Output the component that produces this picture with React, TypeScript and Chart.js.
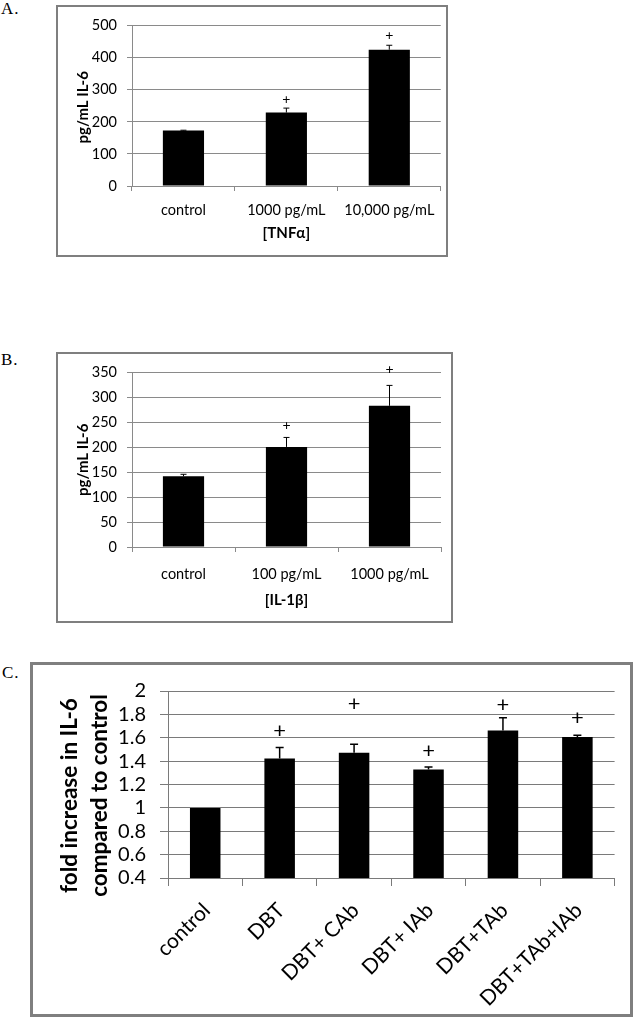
import React, { useEffect, useRef } from "react";
import { Chart, registerables } from "chart.js";

Chart.register(...registerables);

const FONT = "Lato, 'Open Sans', 'DejaVu Sans', sans-serif";

// ---- Panel A data ----
const categoriesA = ["control", "1000 pg/mL", "10,000 pg/mL"];
const valuesA = [173, 229, 425];
const errorsA = [1, 14, 14];
const plusA: (number | null)[] = [null, 271, 468];
const yTicksA = [0, 100, 200, 300, 400, 500];

// ---- Panel B data ----
const categoriesB = ["control", "100 pg/mL", "1000 pg/mL"];
const valuesB = [142, 201, 283.5];
const errorsB = [4, 19, 41];
const plusB: (number | null)[] = [null, 244, 356];
const yTicksB = [0, 50, 100, 150, 200, 250, 300, 350];

// ---- Panel C data ----
const categoriesC = ["control", "DBT", "DBT+ CAb", "DBT+ IAb", "DBT+TAb", "DBT+TAb+IAb"];
const valuesC = [1.0, 1.422, 1.472, 1.328, 1.661, 1.606];
const errorsC = [0, 0.095, 0.072, 0.022, 0.111, 0.016];
const plusC: (number | null)[] = [null, 1.656, 1.889, 1.489, 1.885, 1.767];
const yTicksC = [0.4, 0.6, 0.8, 1, 1.2, 1.4, 1.6, 1.8, 2];

type PanelSpec = {
  label: string;
  labelPos: { left: number; top: number; size: number };
  frame: { left: number; top: number; width: number; height: number; border: number };
  categories: string[];
  values: number[];
  errors: number[];
  plus: (number | null)[];
  yTicks: number[];
  yTitle: string[];
  xTitle?: string;
  lay: {
    padTop: number;
    padRight: number;
    yWidth: number;
    xHeight: number;
    yTickLen: number;
    yTickPad: number;
    yTitleX: number;
    yTitleShift: number;
    yTitleSpacing: number;
    xTickLen: number;
    xTickPad: number;
    xTitlePadBottom: number;
    rotation: number;
    labelOffset: number;
  };
  sty: {
    tickSize: number;
    xTickSize: number;
    yTitleSize: number;
    xTitleSize: number;
    barPct: number;
    grid: string;
    errWidth: number;
    capWidth: number;
    plusSize: number;
  };
};

const panelA: PanelSpec = {
  label: "A.",
  labelPos: { left: 1, top: 0, size: 17 },
  frame: { left: 56, top: 5, width: 392, height: 252, border: 2 },
  categories: categoriesA,
  values: valuesA,
  errors: errorsA,
  plus: plusA,
  yTicks: yTicksA,
  yTitle: ["pg/mL IL-6"],
  xTitle: "[TNFα]",
  lay: {
    padTop: 15, padRight: 4, yWidth: 74, xHeight: 69,
    yTickLen: 5, yTickPad: 10, yTitleX: 25.5, yTitleShift: 1.5, yTitleSpacing: 0,
    xTickLen: 5, xTickPad: 11, xTitlePadBottom: 12.5,
    rotation: 0, labelOffset: 0,
  },
  sty: {
    tickSize: 14.5, xTickSize: 14.5, yTitleSize: 15, xTitleSize: 15,
    barPct: 0.4, grid: "#8a8a8a", errWidth: 1, capWidth: 6, plusSize: 14,
  },
};

const panelB: PanelSpec = {
  label: "B.",
  labelPos: { left: 1, top: 351, size: 17 },
  frame: { left: 56, top: 352, width: 397, height: 271, border: 2 },
  categories: categoriesB,
  values: valuesB,
  errors: errorsB,
  plus: plusB,
  yTicks: yTicksB,
  yTitle: ["pg/mL IL-6"],
  xTitle: "[IL-1β]",
  lay: {
    padTop: 17, padRight: 10, yWidth: 74, xHeight: 74,
    yTickLen: 5, yTickPad: 10, yTitleX: 25.5, yTitleShift: 0, yTitleSpacing: 0,
    xTickLen: 5, xTickPad: 13.5, xTitlePadBottom: 12.3,
    rotation: 0, labelOffset: 0,
  },
  sty: {
    tickSize: 14.5, xTickSize: 14.5, yTitleSize: 15, xTitleSize: 15,
    barPct: 0.4, grid: "#8a8a8a", errWidth: 1, capWidth: 6, plusSize: 14,
  },
};

const panelC: PanelSpec = {
  label: "C.",
  labelPos: { left: 2, top: 664, size: 17 },
  frame: { left: 30, top: 662, width: 603, height: 355, border: 3 },
  categories: categoriesC,
  values: valuesC,
  errors: errorsC,
  plus: plusC,
  yTicks: yTicksC,
  yTitle: ["fold increase in IL-6", "compared to control"],
  lay: {
    padTop: 21, padRight: 15.4, yWidth: 135, xHeight: 136,
    yTickLen: 8, yTickPad: 14, yTitleX: 37, yTitleShift: 11, yTitleSpacing: 30,
    xTickLen: 8, xTickPad: 12, xTitlePadBottom: 0,
    rotation: 45, labelOffset: 1.5,
  },
  sty: {
    tickSize: 20, xTickSize: 21, yTitleSize: 22.5, xTitleSize: 15,
    barPct: 0.41, grid: "#7a7a7a", errWidth: 1.5, capWidth: 8, plusSize: 22,
  },
};

function buildConfig(p: PanelSpec): any {
  const { lay, sty } = p;
  const marksPlugin = {
    id: "marks",
    afterDatasetsDraw(chart: any) {
      const ctx = chart.ctx;
      const meta = chart.getDatasetMeta(0);
      const ys = chart.scales.y;
      ctx.save();
      meta.data.forEach((el: any, i: number) => {
        const x = el.x;
        const e = p.errors[i];
        if (e > 0) {
          const yTop = ys.getPixelForValue(p.values[i] + e);
          const yBar = ys.getPixelForValue(p.values[i]);
          ctx.strokeStyle = "#000";
          ctx.lineWidth = sty.errWidth;
          ctx.beginPath();
          ctx.moveTo(x, yBar);
          ctx.lineTo(x, yTop);
          ctx.moveTo(x - sty.capWidth / 2, yTop);
          ctx.lineTo(x + sty.capWidth / 2, yTop);
          ctx.stroke();
        }
        const pv = p.plus[i];
        if (pv != null) {
          ctx.fillStyle = "#000";
          ctx.font = `${sty.plusSize}px ${FONT}`;
          ctx.textAlign = "center";
          ctx.textBaseline = "middle";
          ctx.fillText("+", x, ys.getPixelForValue(pv));
        }
      });
      // y-axis title
      const area = chart.chartArea;
      const cy = (area.top + area.bottom) / 2 + lay.yTitleShift;
      ctx.translate(lay.yTitleX, cy);
      ctx.rotate(-Math.PI / 2);
      ctx.fillStyle = "#000";
      ctx.font = `bold ${sty.yTitleSize}px ${FONT}`;
      ctx.textAlign = "center";
      ctx.textBaseline = "middle";
      p.yTitle.forEach((line, j) => {
        ctx.fillText(line, 0, j * lay.yTitleSpacing);
      });
      ctx.restore();
    },
  };

  const yMin = Math.min(...p.yTicks);
  const yMax = Math.max(...p.yTicks);

  return {
    type: "bar",
    data: {
      labels: p.categories,
      datasets: [
        {
          data: p.values,
          backgroundColor: "#000",
          borderWidth: 0,
          barPercentage: sty.barPct,
          categoryPercentage: 1,
        },
      ],
    },
    options: {
      animation: false,
      responsive: false,
      maintainAspectRatio: false,
      layout: { padding: { left: 0, right: lay.padRight, top: lay.padTop, bottom: 0 } },
      plugins: { legend: { display: false }, tooltip: { enabled: false }, title: { display: false } },
      scales: {
        x: {
          offset: true,
          grid: {
            display: true,
            offset: true,
            drawOnChartArea: false,
            drawTicks: true,
            tickLength: lay.xTickLen,
            color: sty.grid,
            lineWidth: 1,
          },
          border: { display: true, color: sty.grid, width: 1 },
          ticks: {
            color: "#000",
            font: { family: FONT, size: sty.xTickSize },
            padding: lay.xTickPad,
            autoSkip: false,
            maxRotation: lay.rotation,
            minRotation: lay.rotation,
            labelOffset: lay.labelOffset,
          },
          title: p.xTitle
            ? {
                display: true,
                text: p.xTitle,
                color: "#000",
                font: { family: FONT, size: sty.xTitleSize, weight: "bold" },
                padding: { top: 0, bottom: lay.xTitlePadBottom },
              }
            : { display: false },
          afterFit: (s: any) => {
            s.height = lay.xHeight;
          },
        },
        y: {
          min: yMin,
          max: yMax,
          afterBuildTicks: (s: any) => {
            s.ticks = p.yTicks.map((v) => ({ value: v }));
          },
          grid: {
            color: sty.grid,
            lineWidth: 1,
            drawTicks: true,
            tickLength: lay.yTickLen,
          },
          border: { display: true, color: sty.grid, width: 1 },
          ticks: {
            color: "#000",
            autoSkip: false,
            font: { family: FONT, size: sty.tickSize },
            padding: lay.yTickPad,
            callback: (v: any) => String(Math.round(Number(v) * 100) / 100),
          },
          title: { display: false },
          afterFit: (s: any) => {
            s.width = lay.yWidth;
          },
        },
      },
    },
    plugins: [marksPlugin],
  };
}

function Panel({ spec }: { spec: PanelSpec }) {
  const ref = useRef<HTMLCanvasElement | null>(null);
  const f = spec.frame;
  const cw = f.width - 2 * f.border;
  const ch = f.height - 2 * f.border;
  useEffect(() => {
    if (!ref.current) return;
    const chart = new Chart(ref.current, buildConfig(spec));
    return () => chart.destroy();
  }, [spec]);
  return (
    <>
      <div
        style={{
          position: "absolute",
          left: spec.labelPos.left,
          top: spec.labelPos.top,
          fontFamily: "'Liberation Serif', 'Times New Roman', serif",
          fontSize: spec.labelPos.size,
          lineHeight: 1,
          letterSpacing: 1,
          color: "#000",
        }}
      >
        {spec.label}
      </div>
      <div
        style={{
          position: "absolute",
          left: f.left,
          top: f.top,
          width: f.width,
          height: f.height,
          boxSizing: "border-box",
          border: `${f.border}px solid #7f7f7f`,
          background: "#fff",
        }}
      >
        <canvas ref={ref} width={cw} height={ch} style={{ display: "block", width: cw, height: ch }} />
      </div>
    </>
  );
}

export default function App() {
  return (
    <div
      style={{
        position: "absolute",
        left: 0,
        top: 0,
        width: 634,
        height: 1020,
        background: "#fff",
        overflow: "hidden",
      }}
    >
      <Panel spec={panelA} />
      <Panel spec={panelB} />
      <Panel spec={panelC} />
    </div>
  );
}
